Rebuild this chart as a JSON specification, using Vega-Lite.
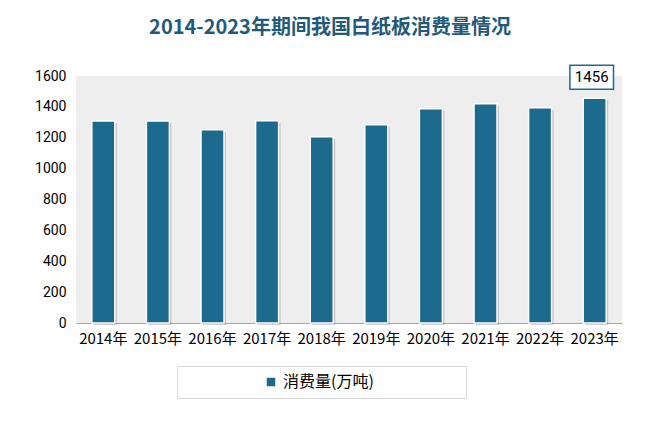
{
  "$schema": "https://vega.github.io/schema/vega-lite/v6.json",
  "width": 546,
  "height": 247,
  "autosize": {"type": "none"},
  "padding": {"left": 76, "top": 76, "right": 37, "bottom": 101},
  "background": "#ffffff",
  "title": {
    "text": "2014-2023年期间我国白纸板消费量情况",
    "font": "Noto Sans CJK SC",
    "fontSize": 20,
    "fontWeight": "bold",
    "color": "#1f5a78",
    "anchor": "middle",
    "dx": -19,
    "offset": 24
  },
  "data": {
    "values": [
      {"year": "2014年", "value": 1308, "series": "消费量(万吨)"},
      {"year": "2015年", "value": 1308, "series": "消费量(万吨)"},
      {"year": "2016年", "value": 1252, "series": "消费量(万吨)"},
      {"year": "2017年", "value": 1310, "series": "消费量(万吨)"},
      {"year": "2018年", "value": 1207, "series": "消费量(万吨)"},
      {"year": "2019年", "value": 1285, "series": "消费量(万吨)"},
      {"year": "2020年", "value": 1388, "series": "消费量(万吨)"},
      {"year": "2021年", "value": 1421, "series": "消费量(万吨)"},
      {"year": "2022年", "value": 1395, "series": "消费量(万吨)"},
      {"year": "2023年", "value": 1456, "series": "消费量(万吨)", "label": "1456"}
    ]
  },
  "encoding": {
    "x": {
      "field": "year",
      "type": "nominal",
      "sort": null,
      "scale": {"paddingInner": 0, "paddingOuter": 0},
      "axis": {
        "title": null,
        "labelAngle": 0,
        "labelFont": "Noto Sans CJK SC",
        "labelFontSize": 15,
        "labelColor": "#000000",
        "labelPadding": 8,
        "ticks": false,
        "domainColor": "#a6a6a6",
        "domainWidth": 1,
        "grid": false
      }
    },
    "y": {
      "field": "value",
      "type": "quantitative",
      "scale": {"domain": [0, 1600], "nice": false},
      "axis": {
        "title": null,
        "format": "d",
        "values": [0, 200, 400, 600, 800, 1000, 1200, 1400, 1600],
        "labelFont": "Roboto",
        "labelFontSize": 14,
        "labelColor": "#000000",
        "labelPadding": 10,
        "ticks": false,
        "domain": false,
        "grid": false
      }
    }
  },
  "layer": [
    {
      "mark": {"type": "bar", "width": 23, "color": "#000000", "opacity": 0.18, "xOffset": 2, "yOffset": 2},
      "encoding": {}
    },
    {
      "mark": {"type": "bar", "width": 23, "stroke": "#ffffff", "strokeWidth": 1.5},
      "encoding": {
        "color": {
          "field": "series",
          "type": "nominal",
          "scale": {"range": ["#1c6b8f"]},
          "legend": {
            "title": null,
            "orient": "none",
            "legendX": 101,
            "legendY": 290,
            "symbolType": "square",
            "symbolSize": 100,
            "symbolOffset": 78,
            "labelFont": "Noto Sans CJK SC",
            "labelFontSize": 16,
            "labelColor": "#000000",
            "labelExpr": "datum.label + '\u3000\u3000\u3000\u3000\u2002\u2800'",
            "labelLimit": 400,
            "padding": 8,
            "strokeColor": "#d9d9d9",
            "fillColor": "#ffffff"
          }
        }
      }
    },
    {
      "transform": [{"filter": "datum.label"}],
      "mark": {
        "type": "point",
        "shape": "M-1,-0.55L1,-0.55L1,0.55L-1,0.55Z",
        "size": 1900,
        "filled": true,
        "fill": "#ffffff",
        "stroke": "#1c6b8f",
        "strokeWidth": 1.5,
        "opacity": 1,
        "yOffset": -21,
        "xOffset": -3
      },
      "encoding": {}
    },
    {
      "transform": [{"filter": "datum.label"}],
      "mark": {
        "type": "text",
        "font": "Roboto",
        "fontSize": 15,
        "color": "#000000",
        "yOffset": -21,
        "xOffset": -3,
        "baseline": "middle"
      },
      "encoding": {"text": {"field": "label"}}
    }
  ],
  "config": {
    "view": {"stroke": null, "fill": "#eeeeee"}
  }
}
